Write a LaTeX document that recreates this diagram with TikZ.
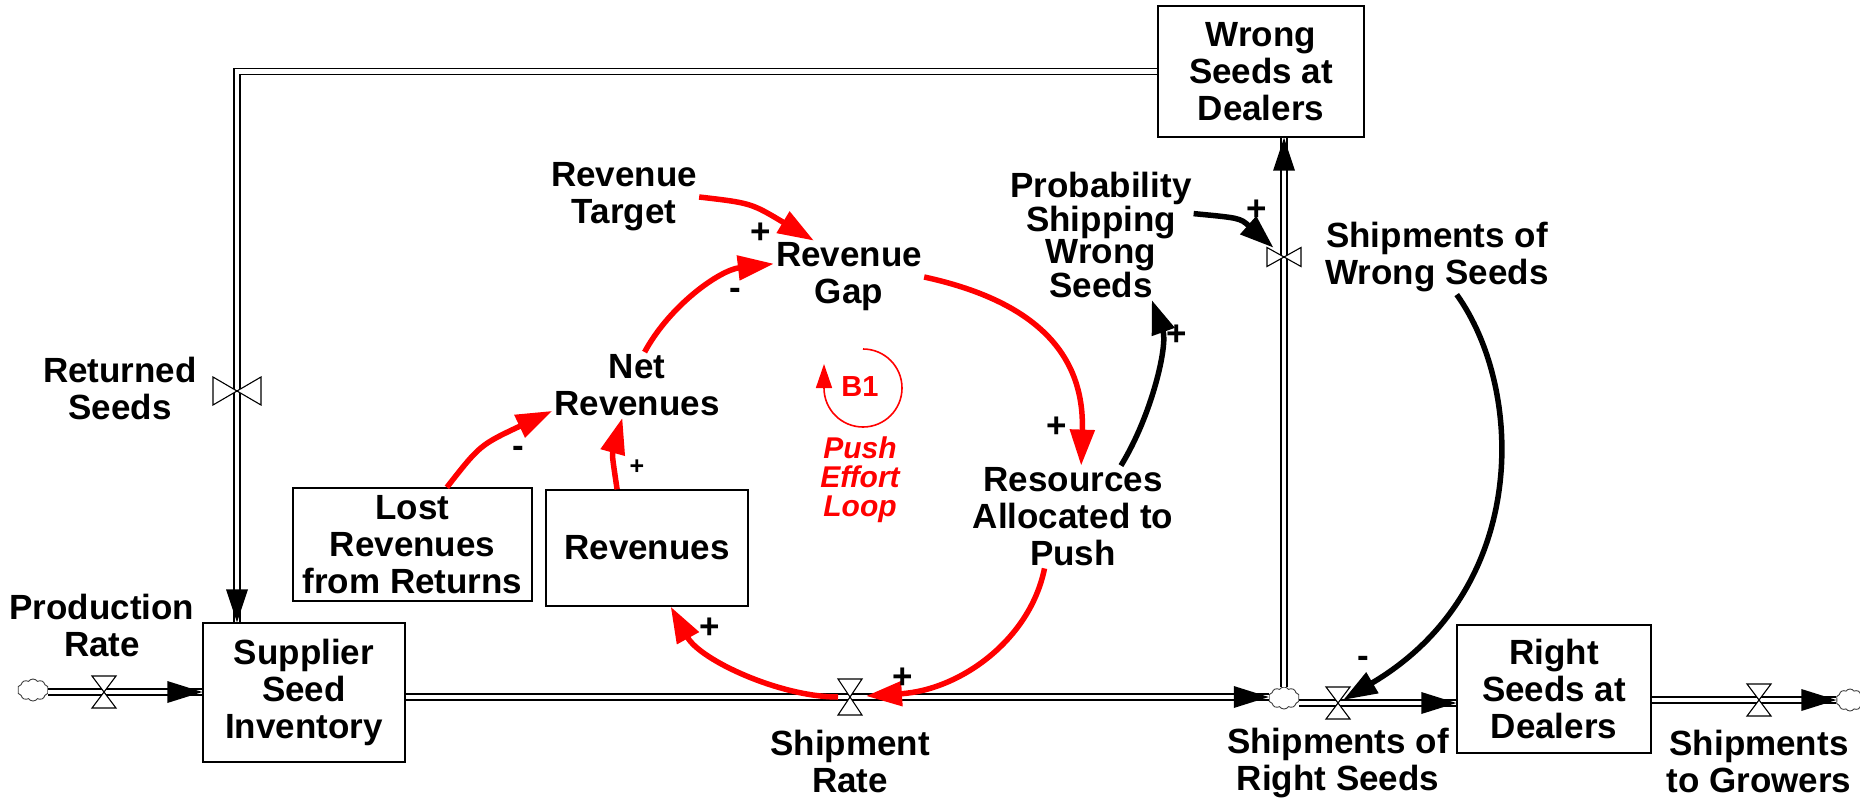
\documentclass[tikz,border=0pt]{standalone}
\usepackage{fontspec}
\setmainfont{Liberation Sans}
\usetikzlibrary{arrows.meta,shapes.symbols}
\definecolor{loopred}{RGB}{255,0,0}
\begin{document}
\begin{tikzpicture}[x=1pt,y=-1pt,
  lbl/.style={align=center,inner sep=2pt,font=\fontsize{35}{37}\selectfont\bfseries},
  tightlbl/.style={align=center,inner sep=2pt,font=\fontsize{35}{29.5}\selectfont\bfseries},
  stock/.style={draw,line width=1.4pt,align=center,inner sep=0pt,font=\fontsize{35}{37}\selectfont\bfseries},
  pipe/.style={draw=black,line width=1.6pt,double=white,double distance=4.5pt},
  pipehead/.style={fill=black},
  valve/.style={draw=black,fill=white,line width=1.1pt,line join=miter},
  cloudy/.style={cloud,cloud puffs=10,cloud puff arc=110,draw=black!75,line width=0.9pt,fill=white,
    minimum width=31pt,minimum height=22pt,inner sep=0pt},
  rlink/.style={draw=loopred,line width=5.5pt,-{Triangle[length=36pt,width=24pt]}},
  blink/.style={draw=black,line width=5.5pt,-{Triangle[length=34pt,width=23pt]}},
  sgn/.style={inner sep=0pt,font=\fontsize{35}{35}\selectfont\bfseries},
]
\useasboundingbox (0,0) rectangle (1860,798);

% valve positions on the pipes
\coordinate (vPR)  at (104,692);
\coordinate (vSR)  at (850,697);
\coordinate (vRS)  at (1338,703);
\coordinate (vSG)  at (1759,700);
\coordinate (vRet) at (237,391);
\coordinate (vWS)  at (1284,257);
\coordinate (loopc) at (863,388);

% stocks
\node[stock,minimum width=202pt,minimum height=139pt] (sup)  at (304,692.5) {Supplier\\Seed\\Inventory};
\node[stock,minimum width=206pt,minimum height=131pt] (ws)   at (1261,71.5) {Wrong\\Seeds at\\Dealers};
\node[stock,minimum width=194pt,minimum height=128pt] (rs)   at (1554,689) {Right\\Seeds at\\Dealers};
\node[stock,minimum width=239pt,minimum height=113pt] (lost) at (412.5,544.5) {Lost\\Revenues\\from Returns};
\node[stock,minimum width=202pt,minimum height=116pt] (rev)  at (647,548) {Revenues};

% sources and sinks
\node[cloudy] (cl1) at (33,690) {};
\node[cloudy] (cl2) at (1284,698) {};
\node[cloudy,minimum width=28pt] (cl3) at (1850,700) {};

% flow pipes
\draw[pipe] (cl1.east |- vPR) -- (sup.west |- vPR);
\fill[pipehead,shift={(sup.west |- vPR)}] (0,0) -- (-35,-11) -- (-35,11) -- cycle;

\draw[pipe] (sup.east |- vSR) -- (cl2.west |- vSR);
\fill[pipehead,shift={(cl2.west |- vSR)}] (0,0) -- (-35,-11) -- (-35,11) -- cycle;

\draw[pipe] (cl2.east |- vRS) -- (rs.west |- vRS);
\fill[pipehead,shift={(rs.west |- vRS)}] (0,0) -- (-35,-11) -- (-35,11) -- cycle;

\draw[pipe] (rs.east |- vSG) -- (cl3.west |- vSG);
\fill[pipehead,shift={(cl3.west |- vSG)}] (0,0) -- (-35,-11) -- (-35,11) -- cycle;

\draw[pipe] (cl2.north) -- (cl2.north |- ws.south);
\fill[pipehead,shift={(cl2.north |- ws.south)}] (0,0) -- (-11,33) -- (11,33) -- cycle;

\draw[pipe,line join=miter] (ws.west) -| (vRet |- sup.north);
\fill[pipehead,shift={(vRet |- sup.north)}] (0,0) -- (-11,-33) -- (11,-33) -- cycle;

% valves
\draw[valve,shift={(vPR)}] (-12,-16) -- (12,-16) -- (-12,16) -- (12,16) -- cycle;
\draw[valve,shift={(vSR)}] (-12,-18) -- (12,-18) -- (-12,18) -- (12,18) -- cycle;
\draw[valve,shift={(vRS)}] (-12,-16) -- (12,-16) -- (-12,16) -- (12,16) -- cycle;
\draw[valve,shift={(vSG)}] (-12,-16) -- (12,-16) -- (-12,16) -- (12,16) -- cycle;
\draw[valve,shift={(vRet)}] (-24,-14) -- (-24,14) -- (24,-14) -- (24,14) -- cycle;
\draw[valve,shift={(vWS)}] (-17,-9.5) -- (-17,9.5) -- (17,-9.5) -- (17,9.5) -- cycle;

% variable and flow names
\node[lbl] (prod) at (102,625) {Production\\Rate};
\node[lbl] (ret)  at (120,388.5) {Returned\\Seeds};
\node[lbl] (tgt)  at (624,197) {Revenue\\Target};
\node[lbl] (gap)  at (849,277) {Revenue\\Gap};
\node[lbl] (net)  at (637,385) {Net\\Revenues};
\node[lbl] (res)  at (1073,517) {Resources\\Allocated to\\Push};
\node[tightlbl] (prob) at (1101,235) {Probability\\Shipping\\Wrong\\Seeds};
\node[lbl] (shws) at (1437,257.5) {Shipments of\\Wrong Seeds};
\node[lbl] (shsr) at (850,761) {Shipment\\Rate};
\node[lbl] (shrs) at (1338,763) {Shipments of\\Right Seeds};
\node[lbl] (shg)  at (1759,761) {Shipments\\to Growers};

% loop marker
\node[font=\fontsize{29}{29}\selectfont\bfseries,text=loopred,inner sep=0pt] (b1) at (860,387) {B1};
\node[align=center,inner sep=0pt,font=\fontsize{30}{29}\selectfont\bfseries\itshape,text=loopred] (pel) at (860,479.5) {Push\\Effort\\Loop};
\draw[draw=loopred,line width=1.6pt,-{Triangle[length=24pt,width=16pt]}]
  (loopc) ++(0,-39) arc[start angle=-90,end angle=180,radius=39] -- ++(0,-24);

% causal links of the push effort loop
\draw[rlink] (tgt.east) .. controls (751,203) .. (gap.134);
\draw[rlink] (net.77) .. controls (670,305) and (720,270) .. (gap.170);
\draw[rlink] (gap.east) .. controls (1030,300) and (1085,350) .. (res.81);
\draw[rlink,shorten >=16pt] (res.-119) .. controls (1030,640) and (960,690) .. (vSR);
\draw[rlink,shorten <=12pt] (vSR) .. controls (780,697) and (700,660) .. (rev.-68);
\draw[rlink] (rev.117) .. controls (612,455) .. (net.-114);
\draw[rlink] (lost.59) .. controls (480,445) .. (net.197);

% other causal links
\draw[blink] (res.47) .. controls (1152,415) and (1168,345) .. (prob.-52);
\draw[blink,shorten >=14pt] (prob.13) .. controls (1240,218) .. (vWS);
\draw[blink,shorten >=6pt] (shws.-62) .. controls (1525,390) and (1530,590) .. (vRS);

% link polarities
\node[sgn] (p1) at (761,233) {+};
\node[sgn] (m1) at (735,294) {-};
\node[sgn] (p2) at (1057,427) {+};
\node[sgn] (p3) at (1177,335) {+};
\node[sgn] (p4) at (1257,210) {+};
\node[sgn] (m2) at (1363,662) {-};
\node[sgn,font=\fontsize{25}{25}\selectfont\bfseries] (p5) at (637,467) {+};
\node[sgn] (p6) at (710,628) {+};
\node[sgn] (p7) at (903,678) {+};
\node[sgn] (m3) at (518,452) {-};
\end{tikzpicture}
\end{document}
